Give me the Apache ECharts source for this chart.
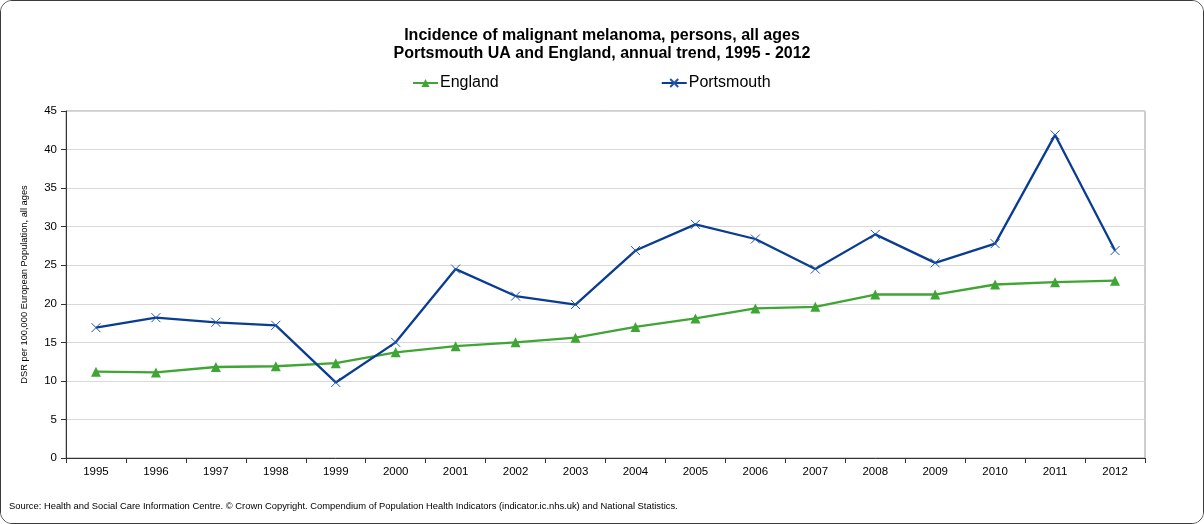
<!DOCTYPE html>
<html>
<head>
<meta charset="utf-8">
<script src="https://cdn.jsdelivr.net/npm/echarts@6/dist/echarts.min.js"></script>
<style>
  html, body { margin: 0; padding: 0; background: #fff; }
  #frame {
    width: 1204px; height: 524px; box-sizing: border-box;
    border: 1px solid #3a3a3a; border-radius: 12px; overflow: hidden; background: #fff;
  }
  #chart { width: 1202px; height: 522px; }
</style>
</head>
<body>
<div id="frame"><div id="chart"></div></div>
<script>
// Annual trend, directly standardised rate per 100,000
const years = ['1995','1996','1997','1998','1999','2000','2001','2002','2003',
               '2004','2005','2006','2007','2008','2009','2010','2011','2012'];
const england = [11.2, 11.1, 11.8, 11.9, 12.3, 13.7, 14.5, 15.0, 15.6,
                 17.0, 18.1, 19.4, 19.6, 21.2, 21.2, 22.5, 22.8, 23.0];
const portsmouth = [16.9, 18.2, 17.6, 17.2, 9.8, 15.0, 24.5, 21.0, 19.9,
                    26.9, 30.3, 28.4, 24.5, 29.0, 25.3, 27.8, 41.9, 26.9];
const yTicks = { min: 0, max: 45, step: 5 };

const FONT = '"Liberation Sans", Arial, sans-serif';
const GREEN = '#3fa535';
const BLUE = '#0a3d91';

const chart = echarts.init(document.getElementById('chart'), null, { renderer: 'canvas' });
chart.setOption({
  backgroundColor: '#fff',
  animation: false,
  title: {
    text: 'Incidence of malignant melanoma, persons, all ages\nPortsmouth UA and England, annual trend, 1995 - 2012',
    left: 'center',
    top: 21,
    textStyle: { fontFamily: FONT, fontSize: 16, fontWeight: 'bold', color: '#000', lineHeight: 18 }
  },
  legend: {
    top: 69,
    left: 406,
    itemGap: 162,
    itemWidth: 25,
    itemHeight: 10,
    textStyle: { fontFamily: FONT, fontSize: 16, color: '#000', padding: [0, 0, 0, -3] },
    data: ['England', 'Portsmouth']
  },
  grid: { left: 65, right: 58, top: 110, bottom: 65, show: true, borderColor: '#9a9a9a', borderWidth: 1 },
  xAxis: {
    type: 'category',
    data: years,
    boundaryGap: true,
    axisLine: { lineStyle: { color: '#333', width: 1 } },
    axisTick: { show: true, length: 5, lineStyle: { color: '#333' } },
    axisLabel: { fontFamily: FONT, fontSize: 11.5, color: '#000', margin: 8 }
  },
  yAxis: {
    type: 'value',
    min: yTicks.min, max: yTicks.max, interval: yTicks.step,
    name: 'DSR per 100,000 European Population, all ages',
    nameLocation: 'middle',
    nameGap: 37,
    nameTextStyle: { fontFamily: FONT, fontSize: 9.3, color: '#000' },
    axisLine: { show: true, lineStyle: { color: '#333', width: 1 } },
    axisTick: { show: true, length: 5, lineStyle: { color: '#333' } },
    axisLabel: { fontFamily: FONT, fontSize: 11.5, color: '#000', margin: 9 },
    splitLine: { lineStyle: { color: '#d9d9d9', width: 1 } }
  },
  series: [
    {
      name: 'England',
      type: 'line',
      data: england,
      symbol: 'triangle',
      symbolSize: 10,
      showAllSymbol: true,
      itemStyle: { color: GREEN },
      lineStyle: { color: GREEN, width: 2.3 }
    },
    {
      name: 'Portsmouth',
      type: 'line',
      data: portsmouth,
      symbol: 'path://M0,0L10,10M10,0L0,10',
      symbolSize: 9,
      showAllSymbol: true,
      itemStyle: { color: BLUE, borderColor: '#1f55b0', borderWidth: 1 },
      lineStyle: { color: BLUE, width: 2.3 }
    }
  ],
  graphic: [{
    type: 'text',
    left: 8,
    top: 501,
    style: {
      text: 'Source: Health and Social Care Information Centre. \u00a9 Crown Copyright. Compendium of Population Health Indicators (indicator.ic.nhs.uk) and National Statistics.',
      fontFamily: FONT, fontSize: 9.4, fill: '#000'
    }
  }]
});
</script>
</body>
</html>
